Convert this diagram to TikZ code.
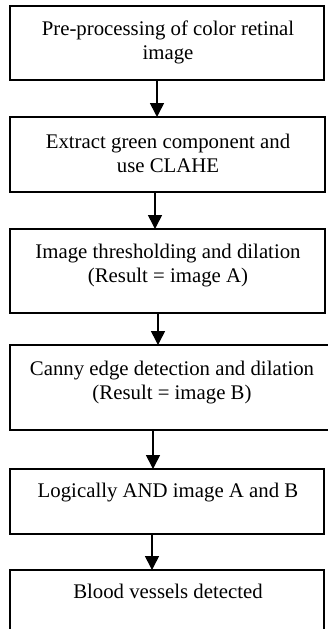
\documentclass[tikz,border=0pt]{standalone}
\usepackage{fontspec}
\setmainfont{Liberation Serif}
\usetikzlibrary{arrows.meta}
\tikzset{
  stepbox/.style={draw=black, line width=1.6pt, fill=none, rectangle},
  steptext/.style={anchor=base, inner sep=0pt, align=center,
    font=\fontsize{20.8}{24}\selectfont},
  flow/.style={line width=1.6pt, -{Triangle[length=14pt,width=14pt]}}
}
\begin{document}
\begin{tikzpicture}[x=1pt,y=-1pt]
\useasboundingbox (0,0) rectangle (328,629);
\fill[white] (0,0) rectangle (328,629);

% process boxes
\draw[stepbox] (10,6) rectangle (324,80);
\coordinate (b1n) at (157,6); \coordinate (b1s) at (157,80);
\draw[stepbox] (10,117) rectangle (325,192);
\coordinate (b2n) at (157,117); \coordinate (b2s) at (155,192);
\draw[stepbox] (10,229) rectangle (325,313);
\coordinate (b3n) at (155,229); \coordinate (b3s) at (158,313);
\draw[stepbox] (10,345) rectangle (334,430);
\coordinate (b4n) at (158,345); \coordinate (b4s) at (153,430);
\draw[stepbox] (10,469) rectangle (324,534);
\coordinate (b5n) at (153,469); \coordinate (b5s) at (152,534);
\draw[stepbox] (10,570) rectangle (324,640);
\coordinate (b6n) at (152,570);

% labels (base anchor sits on the last line of each label)
\node[steptext] (t1) at (168,59) {Pre-processing of color retinal\\image};
\node[steptext] (t2) at (168,172) {Extract green component and\\use CLAHE};
\node[steptext] (t3) at (168,282) {Image thresholding and dilation\\(Result = image A)};
\node[steptext] (t4) at (172,399) {Canny edge detection and dilation\\(Result = image B)};
\node[steptext] (t5) at (168,497) {Logically AND image A and B};
\node[steptext] (t6) at (168,598) {Blood vessels detected};

% connectors
\draw[flow] (b1s) -- (b2n);
\draw[flow] (b2s) -- (b3n);
\draw[flow] (b3s) -- (b4n);
\draw[flow] (b4s) -- (b5n);
\draw[flow] (b5s) -- (b6n);
\end{tikzpicture}
\end{document}
